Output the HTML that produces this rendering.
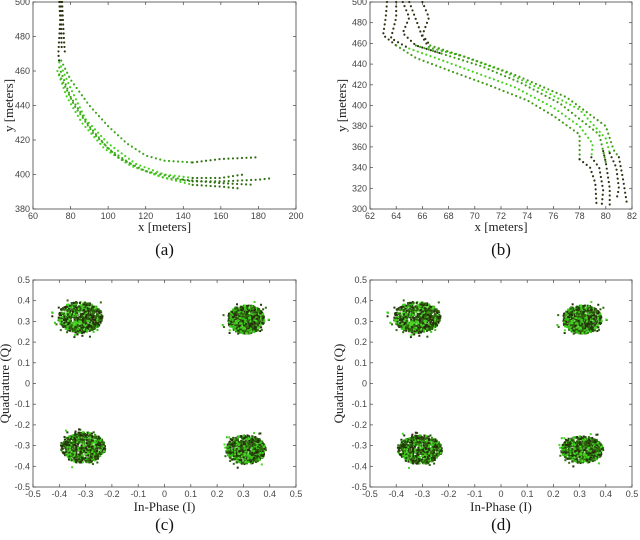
<!DOCTYPE html>
<html><head><meta charset="utf-8"><style>
body{margin:0;background:#fff}
svg{display:block}
.tk{font-family:"Liberation Sans",sans-serif;font-size:9px;fill:#444}
.al{font-family:"Liberation Serif",serif;font-size:13px;fill:#222}
.cap{font-family:"Liberation Serif",serif;font-size:17px;fill:#111}
</style></head><body>
<svg id="fig" width="640" height="540" viewBox="0 0 640 540"></svg>
<script>
// ---- data ----
const aX=[60,200], aY=[380,500];
const aXTicks=[60,80,100,120,140,160,180,200];
const aYTicks=[380,400,420,440,460,480,500];
const aVert=[[74,500],[74.5,490],[74,480],[73.5,470],[74,465]];
const aVert2=[[75.5,500],[76,488],[76.5,478],[77,470]];
const aVert3=[[74.8,500],[75,485],[75.3,472]];
const aTracks=[
 [[75,466],[80,455],[90,440],[100,428],[110,418],[120,411],[130,408],[145,407],[160,409],[180,410]],
 [[74,465],[80,450],[88,432],[100,418],[115,406],[130,400],[145,398],[160,398],[172,400]],
 [[74,462],[80,445],[90,428],[100,415],[115,404],[130,398],[145,396],[160,396],[180,397],[188,398]],
 [[73,460],[78,445],[86,430],[98,415],[112,405],[130,398],[145,394],[160,393],[169,392]],
 [[74,458],[82,440],[92,424],[105,410],[120,402],[140,397],[160,395],[178,394]]
];
const bX=[62,82], bY=[300,500];
const bXTicks=[62,64,66,68,70,72,74,76,78,80,82];
const bYTicks=[300,320,340,360,380,400,420,440,460,480,500];
const bTracks=[
 [[63.3,500],[63.2,485],[63,468],[64,458],[65.5,446],[68,434],[71,420],[74,405],[76,390],[78,372],[78,348],[78.8,340],[79.2,325],[79.3,302]],
 [[64,500],[64,485],[63.6,465],[65,455],[67,446],[70,432],[73,418],[76,398],[78,380],[79,363],[78.9,350],[79.5,340],[79.8,318],[79.7,305]],
 [[64.5,500],[65,485],[64.5,470],[65.5,458],[67.5,450],[70.5,438],[73.5,422],[76.5,402],[79.5,372],[79.8,356],[80,345],[80.3,320],[80.3,302]],
 [[65,500],[65.6,480],[66,466],[66.5,456],[69,448],[72,434],[75,416],[78,396],[80,368],[80.3,354],[80.8,340],[81,320],[80.8,308]],
 [[66,500],[66.5,485],[66,468],[66.6,458],[69.5,446],[73,430],[77,408],[80,380],[80.6,357],[81,350],[81.3,330],[81.6,306]]
];
const cXTicks=[-0.5,-0.4,-0.3,-0.2,-0.1,0,0.1,0.2,0.3,0.4,0.5];
const cYTicks=[-0.5,-0.4,-0.3,-0.2,-0.1,0,0.1,0.2,0.3,0.4,0.5];
const cCenters=[[-0.32,0.32],[0.31,0.31],[-0.31,-0.31],[0.31,-0.32]];
const cSpread=[[0.085,0.075],[0.07,0.07],[0.085,0.075],[0.075,0.07]];
const dCenters=[[-0.32,0.32],[0.31,0.31],[-0.31,-0.32],[0.31,-0.32]];
const dSpread=[[0.09,0.075],[0.075,0.07],[0.085,0.07],[0.08,0.065]];

const NS="http://www.w3.org/2000/svg";
const svg=document.getElementById('fig');
function mk(t,a,p){const e=document.createElementNS(NS,t);for(const k in a)e.setAttribute(k,a[k]);(p||svg).appendChild(e);return e;}

function axes(name,x0,x1,y0,y1,xd,yd,xt,yt,fmt,xl,yl,ylx,cap,capY,xlY){
  const g=mk('g',{});
  
  
  const sx=v=>x0+(v-xd[0])/(xd[1]-xd[0])*(x1-x0);
  const sy=v=>y1-(v-yd[0])/(yd[1]-yd[0])*(y1-y0);
  const fr=mk('rect',{x:x0,y:y0,width:x1-x0,height:y1-y0,fill:'none',stroke:'#444','stroke-width':0.8},g);
  
  
  xt.forEach(v=>{const X=sx(v);
    mk('line',{x1:X,x2:X,y1:y1,y2:y1-3,stroke:'#444','stroke-width':0.7},g);
    mk('line',{x1:X,x2:X,y1:y0,y2:y0+3,stroke:'#444','stroke-width':0.7},g);
    const t=mk('text',{x:X,y:y1+10,'text-anchor':'middle',class:'tk'},g);t.textContent=fmt(v);
    
    });
  yt.forEach(v=>{const Y=sy(v);
    mk('line',{x1:x0,x2:x0+3,y1:Y,y2:Y,stroke:'#444','stroke-width':0.7},g);
    mk('line',{x1:x1,x2:x1-3,y1:Y,y2:Y,stroke:'#444','stroke-width':0.7},g);
    const t=mk('text',{x:x0-3,y:Y+3,'text-anchor':'end',class:'tk'},g);t.textContent=fmt(v);
    
    });
  const a=mk('text',{x:(x0+x1)/2,y:xlY,'text-anchor':'middle',class:'al'},g);a.textContent=xl;
  
  
  const b=mk('text',{x:ylx,y:(y0+y1)/2,'text-anchor':'middle',class:'al',transform:`rotate(-90 ${ylx} ${(y0+y1)/2})`},g);b.textContent=yl;
  
  
  const c=mk('text',{x:(x0+x1)/2,y:capY,'text-anchor':'middle',class:'cap'},g);c.textContent=cap;
  
  
  return {g,sx,sy};
}
function track(ax,pts,col,name){
  const p=mk('polyline',{points:pts.map(q=>ax.sx(q[0])+','+ax.sy(q[1])).join(' '),fill:'none',stroke:col,'stroke-width':2.2,'stroke-linecap':'round','stroke-dasharray':'0 4.5'},ax.g);
  
  
}
const numf=v=>String(v);
const qf=v=>v===0?'0':String(Math.round(v*10)/10);

// (a)
const A=axes('panel-a',33,296,2,209,aX,aY,aXTicks,aYTicks,numf,'x [meters]','y [meters]',13,'(a)',255,231);
const DARK='#2b3410',GREEN='#45d21c',MID='#2f6f10';
track(A,aVert,DARK,'track-a-vertical');
track(A,aVert2,DARK,'track-a-vertical-2');
track(A,aVert3,DARK,'track-a-vertical-3');
aTracks.forEach((t,i)=>{
  const up=t.filter(p=>p[0]<=145),dn=t.filter(p=>p[0]>=140);
  track(A,up,i%2?GREEN:'#3aa816','track-a-'+i+'-upper');
  track(A,dn,MID,'track-a-'+i+'-lower');
});
// (b)
const B=axes('panel-b',370,632,2,209,bX,bY,bXTicks,bYTicks,numf,'x [meters]','y [meters]',346,'(b)',255,231);
bTracks.forEach((t,i)=>{
  track(B,t.filter(p=>p[1]>=448),DARK,'track-b-'+i+'-top');
  track(B,t.filter(p=>p[1]<=460&&p[1]>=345),i%2?GREEN:'#3e9a14','track-b-'+i+'-middle');
  track(B,t.filter(p=>p[1]<=356),DARK,'track-b-'+i+'-bottom');
});
// constellations (marker texture only; cluster data = centers/spreads)
function h(n){const s=Math.sin(n*12.9898+78.233)*43758.5453;return s-Math.floor(s);}
function cloud(ax,centers,spread,label){
  const cols=['#2a2a0c','#39c81c','#2f6a0f','#1f3a0a','#4ad624','#2a5a0c'];
  centers.forEach((c,k)=>{
    const g=mk('g',{},ax.g);
    
    
    const n=800;
    for(let i=0;i<n;i++){
      const u=h(i*3+k*1000+1),v=h(i*3+k*1000+2),w=h(i*3+k*1000+3);
      let r=Math.sqrt(u)*(i%25===0?1.35:1.0);
      const th=v*6.2832;
      const px=ax.sx(c[0]+spread[k][0]*r*Math.cos(th)),py=ax.sy(c[1]+spread[k][1]*r*Math.sin(th));
      mk('rect',{x:px-1,y:py-1,width:2,height:2,fill:cols[Math.floor(w*6)]},g);
    }
  });
}
const C=axes('panel-c',33,296,280,487,[-0.5,0.5],[-0.5,0.5],cXTicks,cYTicks,qf,'In-Phase (I)','Quadrature (Q)',9,'(c)',530,511);
cloud(C,cCenters,cSpread,'c');
const D=axes('panel-d',370,632,280,487,[-0.5,0.5],[-0.5,0.5],cXTicks,cYTicks,qf,'In-Phase (I)','Quadrature (Q)',343,'(d)',530,511);
cloud(D,dCenters,dSpread,'d');
</script>
</body></html>
